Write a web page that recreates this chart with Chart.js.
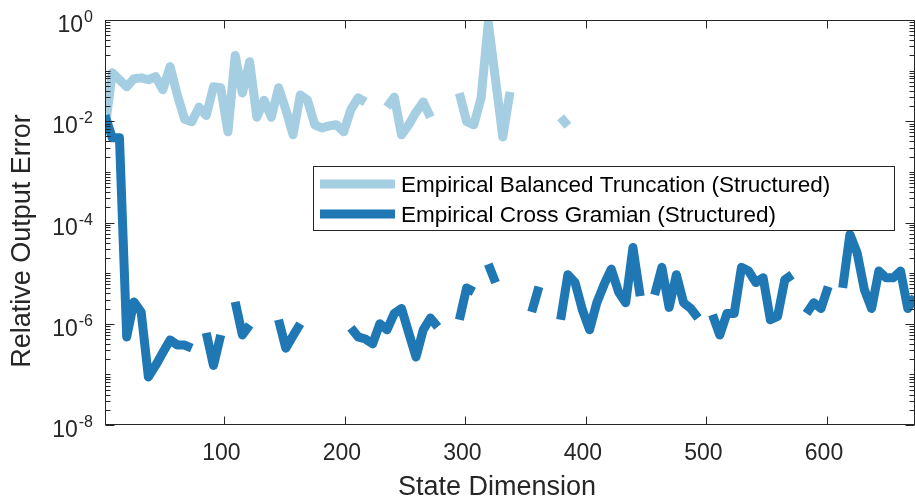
<!DOCTYPE html>
<html><head><meta charset="utf-8">
<script src="https://cdn.jsdelivr.net/npm/chart.js@4/dist/chart.umd.min.js"></script>
<style>html,body{margin:0;padding:0;background:#fff;}#wrap{width:915px;height:497px;position:relative}</style>
</head><body><div id="wrap"><canvas id="c" width="915" height="497"></canvas></div>
<script>
const stateDims = [1,7,13,19,25,31,37,43,49,55,61,67,73,79,85,91,97,103,109,115,121,127,133,139,145,151,157,163,169,175,181,187,193,199,205,211,217,223,229,235,241,247,253,259,265,271,277,283,289,295,301,307,313,319,325,331,337,343,349,355,361,367,373,379,385,391,397,403,409,415,421,427,433,439,445,451,457,463,469,475,481,487,493,499,505,511,517,523,529,535,541,547,553,559,565,571,577,583,589,595,601,607,613,619,625,631,637,643,649,655,661,667,673];
const ebtError = [
 6.8e-3,9.1e-2,6.6e-2,4.8e-2,6.9e-2,7.2e-2,6.6e-2,7.6e-2,4.2e-2,0.12,
 3.3e-2,1.1e-2,9.8e-3,1.9e-2,1.3e-2,4.8e-2,4.6e-2,6.2e-3,0.20,3.6e-2,
 0.15,1.2e-2,2.6e-2,1.2e-2,4.6e-2,1.7e-2,5.4e-3,3.3e-2,2.6e-2,8.5e-3,
 7.4e-3,8.1e-3,8.5e-3,6.2e-3,1.7e-2,2.9e-2,2.4e-2,null,null,1.9e-2,
 3.0e-2,5.4e-3,8.5e-3,1.5e-2,2.4e-2,1.2e-2,null,null,null,3.6e-2,
 9.8e-3,8.5e-3,2.9e-2,0.89,6.6e-2,4.9e-3,3.8e-2,null,null,null,
 null,null,null,1.2e-2,8.1e-3,null,null,null,null,null,
 null,null,null,null,null,null,null,null,null,null,
 null,null,null,null,null,null,null,null,null,null,
 null,null,null,null,null,null,null,null,null,null,
 null,null,null,null,null,null,null,null,null,null,
 null,null,null];
const ecgError = [
 1.3e-2,4.7e-3,4.7e-3,5.5e-7,2.7e-6,1.7e-6,8.9e-8,1.5e-7,2.7e-7,4.8e-7,
 3.8e-7,3.8e-7,3.3e-7,null,6.6e-7,1.5e-7,6.0e-7,null,2.7e-6,6.0e-7,
 9.5e-7,null,null,null,1.2e-6,3.3e-7,5.8e-7,1.0e-6,null,null,
 null,null,null,null,8.3e-7,5.5e-7,5.0e-7,4.0e-7,1.0e-6,7.6e-7,
 1.6e-6,2.0e-6,6.6e-7,2.2e-7,7.6e-7,1.3e-6,8.7e-7,null,null,1.2e-6,
 5.1e-6,4.3e-6,null,1.5e-5,6.5e-6,null,null,null,null,1.7e-6,
 5.4e-6,null,null,1.2e-6,9.3e-6,6.5e-6,1.9e-6,7.6e-7,2.6e-6,5.9e-6,
 1.2e-5,4.3e-6,2.6e-6,3.2e-5,3.5e-6,null,3.7e-6,1.3e-5,2.1e-6,9.3e-6,
 2.6e-6,2.0e-6,1.3e-6,null,1.5e-6,6.0e-7,1.6e-6,1.6e-6,1.3e-5,1.1e-5,
 6.5e-6,8.1e-6,1.2e-6,1.4e-6,7.4e-6,9.3e-6,null,1.6e-6,2.6e-6,2.0e-6,
 5.4e-6,null,5.1e-6,5.8e-5,2.5e-5,4.7e-6,2.0e-6,1.1e-5,8.1e-6,8.1e-6,
 1.1e-5,2.0e-6,3.4e-6];
const xTickValues = [100,200,300,400,500,600];
const yTickExponents = [0,-2,-4,-6,-8];
const seriesNames = ['Empirical Balanced Truncation (Structured)','Empirical Cross Gramian (Structured)'];
const seriesColors = ['#a6cee3','#1f78b4'];
const xTitle = 'State Dimension';
const yTitle = 'Relative Output Error';

const FONT = '"Liberation Sans", Arial, Helvetica, sans-serif';
const INK = '#262626';

const toPts = arr => stateDims.map((d,i)=>({x:d, y:arr[i]}));

const decor = {
  id:'decor',
  afterDraw(chart){
    const {ctx, chartArea:a, scales:{x,y}} = chart;
    ctx.save();
    const L = Math.round(a.left)+0.5, R = Math.round(a.right)-0.5, T = Math.round(a.top)+0.5, B = Math.round(a.bottom)-0.5;
    ctx.strokeStyle = INK; ctx.lineWidth = 1;
    ctx.strokeRect(L,T,R-L,B-T);
    ctx.beginPath();
    xTickValues.forEach(v=>{
      const px = Math.round(x.getPixelForValue(v))+0.5;
      ctx.moveTo(px,B); ctx.lineTo(px,B-8);
      ctx.moveTo(px,T); ctx.lineTo(px,T+8);
    });
    for (let e=-8;e<=0;e++){
      for (let m=1;m<10;m++){
        const v = m*Math.pow(10,e);
        if (v>1.0000001) break;
        const py = Math.round(y.getPixelForValue(v))+0.5;
        const major = (m===1 && yTickExponents.includes(e));
        const len = major?9:5;
        ctx.moveTo(L,py); ctx.lineTo(L+len,py);
        ctx.moveTo(R,py); ctx.lineTo(R-len,py);
      }
    }
    ctx.stroke();

    ctx.fillStyle = INK;
    ctx.font = '23px '+FONT;
    ctx.textAlign = 'center'; ctx.textBaseline = 'alphabetic';
    xTickValues.forEach(v=>{
      ctx.fillText(String(v), x.getPixelForValue(v)-3, 460);
    });
    yTickExponents.forEach(e=>{
      const py = y.getPixelForValue(Math.pow(10,e));
      const expStr = String(e);
      ctx.font = '16px '+FONT;
      ctx.textAlign = 'right';
      const ew = ctx.measureText(expStr).width;
      ctx.fillText(expStr, 93, py+2);
      ctx.font = '23px '+FONT;
      ctx.fillText('10', 93-ew-1, py+12);
    });
    ctx.font = '27px '+FONT;
    ctx.textAlign = 'center';
    ctx.fillText(xTitle, 497, 495);
    ctx.save();
    ctx.translate(30, 241);
    ctx.rotate(-Math.PI/2);
    ctx.fillText(yTitle, 0, 0);
    ctx.restore();

    ctx.fillStyle = '#fff';
    ctx.fillRect(313.5,166.5,581,64);
    ctx.strokeStyle = INK; ctx.lineWidth = 1;
    ctx.strokeRect(313.5,166.5,581,64);
    const rows = [184,214];
    rows.forEach((ry,i)=>{
      ctx.strokeStyle = seriesColors[i]; ctx.lineWidth = 9; ctx.lineCap='butt';
      ctx.beginPath(); ctx.moveTo(320,ry); ctx.lineTo(395,ry); ctx.stroke();
      ctx.fillStyle = '#000'; ctx.font = '22.5px '+FONT; ctx.textAlign='left';
      ctx.fillText(seriesNames[i], 401, ry+8);
    });
    ctx.restore();
  }
};

new Chart(document.getElementById('c'), {
  type:'line',
  data:{datasets:[
    {label:seriesNames[0], data:toPts(ebtError), borderColor:seriesColors[0], backgroundColor:seriesColors[0], borderWidth:9, pointRadius:0, tension:0, spanGaps:false, borderJoinStyle:'round', borderCapStyle:'butt', order:2},
    {label:seriesNames[1], data:toPts(ecgError), borderColor:seriesColors[1], backgroundColor:seriesColors[1], borderWidth:9, pointRadius:0, tension:0, spanGaps:false, borderJoinStyle:'round', borderCapStyle:'butt', order:1}
  ]},
  options:{
    responsive:false, animation:false, devicePixelRatio:1,
    layout:{padding:{top:20,right:0,left:0,bottom:0}},
    plugins:{legend:{display:false}, tooltip:{enabled:false}},
    scales:{
      x:{type:'linear', min:1, max:673, afterFit(s){s.height=72;}, ticks:{display:false}, grid:{display:false}, border:{display:false}},
      y:{type:'logarithmic', min:1e-8, max:1, afterFit(s){s.width=105;}, ticks:{display:false}, grid:{display:false}, border:{display:false}}
    }
  },
  plugins:[decor]
});
</script></body></html>
